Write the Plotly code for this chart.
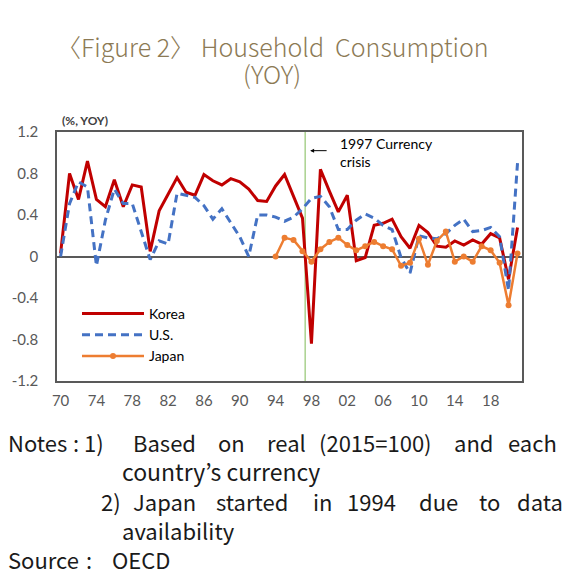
import plotly.graph_objects as go

years = list(range(1970, 2022))
korea = [0.03, 0.80, 0.55, 0.92, 0.55, 0.48, 0.74, 0.48, 0.69, 0.67,
         0.05, 0.44, 0.60, 0.76, 0.62, 0.59, 0.79, 0.73, 0.69, 0.75,
         0.72, 0.65, 0.54, 0.53, 0.68, 0.79, 0.58, 0.37, -0.84, 0.84,
         0.63, 0.43, 0.59, -0.04, -0.01, 0.30, 0.32, 0.36, 0.19, 0.08,
         0.30, 0.23, 0.10, 0.09, 0.15, 0.11, 0.16, 0.12, 0.22, 0.18,
         -0.22, 0.28]
us = [0.00, 0.51, 0.72, 0.67, -0.09, 0.35, 0.65, 0.51, 0.51, 0.25,
      -0.03, 0.15, 0.12, 0.61, 0.59, 0.57, 0.49, 0.36, 0.46, 0.33,
      0.19, 0.00, 0.40, 0.40, 0.38, 0.34, 0.38, 0.46, 0.56, 0.58,
      0.48, 0.26, 0.26, 0.35, 0.41, 0.37, 0.30, 0.26, -0.01, -0.16,
      0.20, 0.18, 0.17, 0.22, 0.30, 0.36, 0.24, 0.25, 0.28, 0.19,
      -0.33, 0.90]
japan_years = list(range(1994, 2022))
japan = [0.00, 0.18, 0.16, 0.05, -0.05, 0.07, 0.14, 0.18, 0.11, 0.06,
         0.10, 0.14, 0.10, 0.07, -0.09, -0.06, 0.17, -0.08, 0.15, 0.24,
         -0.05, 0.00, -0.05, 0.10, 0.06, -0.06, -0.47, 0.03]

x_tick_vals = list(range(1970, 2022, 4))
x_tick_text = ["70", "74", "78", "82", "86", "90", "94", "98", "02", "06", "10", "14", "18"]
y_tick_vals = [-1.2, -0.8, -0.4, 0, 0.4, 0.8, 1.2]
y_tick_text = ["-1.2", "-0.8", "-0.4", "0", "0.4", "0.8", "1.2"]
crisis_year = 1997.3

fig = go.Figure()
fig.add_trace(go.Scatter(x=years, y=korea, name="Korea", mode="lines",
                         line=dict(color="#C00000", width=3)))
fig.add_trace(go.Scatter(x=years, y=us, name="U.S.", mode="lines",
                         line=dict(color="#4472C4", width=3, dash="8px,5px")))
fig.add_trace(go.Scatter(x=japan_years, y=japan, name="Japan", mode="lines+markers",
                         line=dict(color="#ED7D31", width=2.5),
                         marker=dict(color="#ED7D31", size=6)))

fig.add_shape(type="line", x0=crisis_year, x1=crisis_year, y0=-1.2, y1=1.2,
              xref="x", yref="y", line=dict(color="#A9D18E", width=1.5), layer="below")

W, H = 580, 579
L, R, T, B = 57, 522, 132, 381


def px2paper(sx, sy):
    return (sx - L) / (R - L), (B - sy) / (B - T)


font_main = "Noto Sans CJK KR"
lx, ly = px2paper(77, 298)
fig.update_layout(
    width=W, height=H,
    margin=dict(l=L, r=W - R, t=T, b=H - B),
    paper_bgcolor="white", plot_bgcolor="white",
    showlegend=True,
    legend=dict(x=lx, y=ly, xanchor="left", yanchor="top",
                font=dict(family="Lato", size=14, color="#000000"),
                itemwidth=62, tracegroupgap=0, bgcolor="rgba(0,0,0,0)"),
    xaxis=dict(range=[1969.6, 2021.5], tickvals=x_tick_vals, ticktext=x_tick_text,
               showgrid=False, zeroline=False, showline=True, mirror=True,
               linecolor="#595959", linewidth=1.5,
               ticks="outside", ticklen=5, tickcolor="rgba(0,0,0,0)",
               tickfont=dict(family="Lato", size=15, color="#595959")),
    yaxis=dict(range=[-1.2, 1.2], tickvals=y_tick_vals, ticktext=y_tick_text,
               showgrid=False, zeroline=True, zerolinecolor="#595959", zerolinewidth=1.5,
               showline=True, mirror=True, linecolor="#595959", linewidth=1.5,
               ticks="outside", ticklen=14, tickcolor="rgba(0,0,0,0)",
               tickfont=dict(family="Lato", size=15, color="#595959")),
)


def pa(text, sx, sy, size, color, anchor="left", family=font_main, bold=False, weight=None):
    x, y = px2paper(sx, sy)
    f = dict(family=family, size=size, color=color)
    if weight is not None:
        f["weight"] = weight
    fig.add_annotation(text=("<b>%s</b>" % text) if bold else text,
                       x=x, y=y, xref="paper", yref="paper",
                       xanchor=anchor, yanchor="middle", showarrow=False, font=f)


NB = "\u00a0"
pa("〈Figure" + NB + "2〉" + NB + "Household" + NB + NB + "Consumption", 272, 46, 25, "#8C7A55",
   anchor="center", weight=300)
pa("(YOY)", 272, 73, 25, "#8C7A55", anchor="center", weight=300)
pa("(%, YOY)", 60, 121, 12, "#404040", family="Lato", bold=True)

# arrow and crisis label
fig.add_annotation(x=1997.85, y=1.02, xref="x", yref="y", ax=18, ay=0,
                   text="", showarrow=True, arrowhead=2, arrowsize=0.8,
                   arrowwidth=1, arrowcolor="#000000")
fig.add_annotation(x=2001.0, y=1.0, xref="x", yref="y", xanchor="left", yanchor="middle",
                   text="1997 Currency<br>crisis", showarrow=False, align="left",
                   font=dict(family="Lato", size=14, color="#000000"))

# notes, justified like the reference (word positions)
note_col = "#1a1a1a"
ns = 22
line1 = [("Notes", 6), (":", 71), ("1)", 82), ("Based", 131), ("on", 216), ("real", 265),
         ("(2015=100)", 317), ("and", 452), ("each", 506)]
line3 = [("2)", 99), ("Japan", 131), ("started", 214), ("in", 311), ("1994", 345),
         ("due", 417), ("to", 477), ("data", 515)]
line5 = [("Source", 6), (":", 84), ("OECD", 110)]
for w, sx in line1:
    pa(w, sx, 442, ns, note_col)
pa("country’s" + NB + "currency", 120, 471, 23, note_col)
for w, sx in line3:
    pa(w, sx, 501, ns, note_col)
pa("availability", 120, 530, ns, note_col)
for w, sx in line5:
    pa(w, sx, 559, ns, note_col)

fig.write_html("out.html", config={"displayModeBar": False},
               post_script="document.body.style.margin='0';")
